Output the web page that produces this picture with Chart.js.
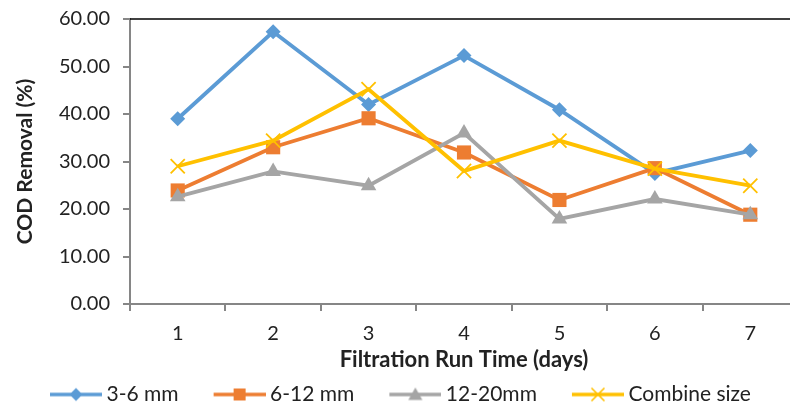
<!DOCTYPE html>
<html>
<head>
<meta charset="utf-8">
<script src="https://cdn.jsdelivr.net/npm/chart.js@4/dist/chart.umd.min.js"></script>
<style>
html,body{margin:0;padding:0;background:#fff;overflow:hidden;}
#wrap{width:800px;height:407px;position:relative;}
canvas{display:block;}
</style>
</head>
<body>
<div id="wrap"><canvas id="c" width="800" height="407"></canvas></div>
<script>
const categories = ['1','2','3','4','5','6','7'];
const seriesNames = ['3-6 mm','6-12 mm','12-20mm','Combine size'];
const s36 = [39.0, 57.3, 42.0, 52.3, 40.9, 27.5, 32.3];
const s612 = [23.9, 33.0, 39.1, 31.9, 21.9, 28.6, 18.8];
const s1220 = [22.6, 27.9, 24.9, 36.0, 17.9, 22.1, 18.8];
const sComb = [29.0, 34.4, 45.2, 28.0, 34.4, 28.5, 24.9];
const yTicks = [0,10,20,30,40,50,60];

const colors = ['#5B9BD5','#ED7D31','#A5A5A5','#FFC000'];
const styles = ['rectRot','rect','triangle','crossRot'];
const radii = [7.5,10,9,10];
const FONT = 'Lato, "Open Sans", sans-serif';

function legendIcon(i){
  const cv = document.createElement('canvas');
  cv.width = 91; cv.height = 18;
  const g = cv.getContext('2d');
  g.strokeStyle = colors[i]; g.lineWidth = 3.5;
  g.beginPath(); g.moveTo(39,9); g.lineTo(91,9); g.stroke();
  g.fillStyle = colors[i];
  const cx = 65, cy = 9;
  if (i===0){ g.beginPath(); g.moveTo(cx,cy-6.5); g.lineTo(cx+6.5,cy); g.lineTo(cx,cy+6.5); g.lineTo(cx-6.5,cy); g.closePath(); g.fill(); }
  else if (i===1){ g.fillRect(cx-6,cy-6,12,12); }
  else if (i===2){ g.beginPath(); g.moveTo(cx,cy-7); g.lineTo(cx+7,cy+5.5); g.lineTo(cx-7,cy+5.5); g.closePath(); g.fill(); }
  else { g.lineWidth=1.6; g.beginPath(); g.moveTo(cx-6.5,cy-6.5); g.lineTo(cx+6.5,cy+6.5); g.moveTo(cx+6.5,cy-6.5); g.lineTo(cx-6.5,cy+6.5); g.stroke(); }
  return cv;
}

const topBorder = {
  id:'topBorder',
  afterDraw(chart){
    const {ctx, chartArea:a} = chart;
    ctx.save(); ctx.strokeStyle='#000'; ctx.lineWidth=1.5;
    ctx.beginPath(); ctx.moveTo(a.left, a.top); ctx.lineTo(chart.width, a.top); ctx.stroke();
    ctx.restore();
  }
};

const allData = [s36, s612, s1220, sComb];
const datasets = allData.map((d,i)=>({
  label: seriesNames[i],
  data: d,
  borderColor: colors[i],
  backgroundColor: colors[i],
  borderWidth: 3.8,
  pointStyle: styles[i],
  pointRadius: radii[i],
  pointHoverRadius: radii[i],
  pointBorderWidth: i===3 ? 1.8 : 0,
  pointBorderColor: colors[i],
  pointBackgroundColor: colors[i],
  tension: 0,
  clip: false,
  order: 3 - i
}));

new Chart(document.getElementById('c'), {
  type: 'line',
  data: { labels: categories, datasets },
  plugins: [topBorder],
  options: {
    responsive: false,
    animation: false,
    layout: { autoPadding: false, padding: { top: 19, right: 2, left: 15, bottom: -8 } },
    plugins: {
      tooltip: { enabled: false },
      legend: {
        position: 'bottom',
        align: 'start',
        labels: {
          usePointStyle: true,
          pointStyleWidth: 79,
          padding: 2,
          color: '#222',
          font: { family: FONT, size: 21 },
          sort: (a,b)=>a.datasetIndex-b.datasetIndex,
          generateLabels(chart){
            const items = Chart.defaults.plugins.legend.labels.generateLabels(chart);
            items.forEach(it=>{ it.pointStyle = legendIcon(it.datasetIndex); });
            return items;
          }
        }
      }
    },
    scales: {
      x: {
        offset: true,
        afterFit(scale){ scale.height = 78; scale.paddingLeft = 0; scale.paddingRight = 0; },
        grid: { offset: true, drawOnChartArea: false, tickLength: 7, color: '#868686', lineWidth: 2 },
        border: { color: '#868686', width: 2 },
        ticks: { color: '#222', font: { family: FONT, size: 20 }, padding: 11 },
        title: { display: true, text: 'Filtration Run Time (days)', color: '#222', font: { family: FONT, size: 22, weight: 'bold' }, padding: { top: 0, bottom: 9 } }
      },
      y: {
        min: 0, max: 60,
        afterFit(scale){ scale.width = 115; },
        afterBuildTicks(scale){ scale.ticks = yTicks.map(v=>({value:v})); },
        grid: { drawOnChartArea: false, tickLength: 7, color: '#868686', lineWidth: 2 },
        border: { color: '#868686', width: 2 },
        ticks: { color: '#222', font: { family: FONT, size: 20, lineHeight: 0.5 }, padding: 13, callback: v => Number(v).toFixed(2) },
        title: { display: true, text: 'COD Removal (%)', color: '#222', font: { family: FONT, size: 21, weight: 'bold', lineHeight: 1 }, padding: { top: 0, bottom: 0 } }
      }
    }
  }
});
</script>
</body>
</html>
